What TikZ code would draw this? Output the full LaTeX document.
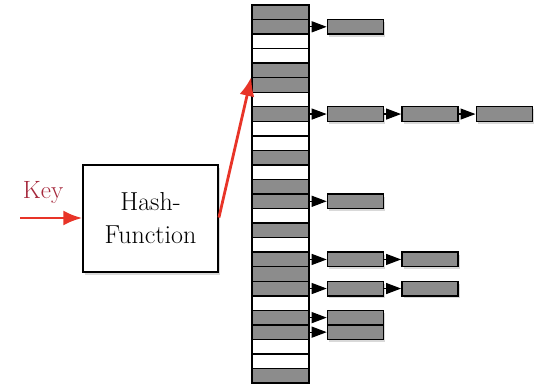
\documentclass[tikz,border=0pt]{standalone}
\usepackage{tikz}
\usetikzlibrary{arrows.meta}
\usetikzlibrary{positioning,shadows}
\usepackage{xcolor}
\definecolor{cellgray}{RGB}{140,140,140}
\definecolor{keyred}{RGB}{165,40,60}
\definecolor{arrowred}{RGB}{232,52,40}
\tikzset{
    cell/.style={
        draw,
        line width=1.4pt,
        minimum width=57pt,
        minimum height=14.54pt,
        inner sep=0pt
    },
    listbox/.style={
        draw,
        line width=1.4pt,
        fill=cellgray,
        minimum width=56pt,
        minimum height=14.54pt,
        inner sep=0pt,
        drop shadow={shadow xshift=2pt, shadow yshift=-2.5pt, opacity=0.3}
    },
    pointer/.style={
        -{Triangle[length=15pt, width=11pt]},
        line width=1.2pt
    },
    redarrow/.style={
        arrowred,
        line width=2.8pt,
        -{Latex[length=19pt, width=15pt]}
    }
}

\begin{document}
\begin{tikzpicture}[x=1pt, y=-1pt]
    \useasboundingbox (0,0) rectangle (539,389);

    % hash table
    \foreach \col [count=\i from 0] in {cellgray,cellgray,white,white,cellgray,cellgray,white,cellgray,white,white,cellgray,white,cellgray,cellgray,white,cellgray,white,cellgray,cellgray,cellgray,white,cellgray,cellgray,white,white,cellgray}
        \node[cell, fill=\col] (c\i) at (280.5, {12.27+14.54*\i}) {};

    % chains
    \node[listbox, right=17pt of c1] (b1) {};
    \node[listbox, right=17pt of c7] (b7a) {};
    \node[listbox, right=17pt of b7a] (b7b) {};
    \node[listbox, right=17pt of b7b] (b7c) {};
    \node[listbox, right=17pt of c13] (b13) {};
    \node[listbox, right=17pt of c17] (b17a) {};
    \node[listbox, right=17pt of b17a] (b17b) {};
    \node[listbox, right=17pt of c19] (b19a) {};
    \node[listbox, right=17pt of b19a] (b19b) {};
    \node[listbox, right=17pt of c21] (b21) {};
    \node[listbox, right=17pt of c22] (b22) {};

    \draw[pointer] (c1) -- (b1);
    \draw[pointer] (c7) -- (b7a);
    \draw[pointer] (b7a) -- (b7b);
    \draw[pointer] (b7b) -- (b7c);
    \draw[pointer] (c13) -- (b13);
    \draw[pointer] (c17) -- (b17a);
    \draw[pointer] (b17a) -- (b17b);
    \draw[pointer] (c19) -- (b19a);
    \draw[pointer] (b19a) -- (b19b);
    \draw[pointer] (c21) -- (b21);
    \draw[pointer] (c22) -- (b22);

    % hash function
    \node[draw, line width=1.4pt, fill=white, minimum width=135pt, minimum height=107pt,
          align=center, font=\fontsize{26}{33}\selectfont,
          drop shadow={shadow xshift=2pt, shadow yshift=-2.5pt, opacity=0.3}] (hash) at (150.5,218.5) {Hash-\\Function};

    \node[keyred, font=\fontsize{25}{30}\selectfont] (key) at (43,192) {Key};
    \coordinate (in) at (20,218);

    \draw[redarrow] (in) -- (in -| hash.west);
    \draw[redarrow, shorten <=1pt] (hash.east) -- (c5.north west);
\end{tikzpicture}
\end{document}
